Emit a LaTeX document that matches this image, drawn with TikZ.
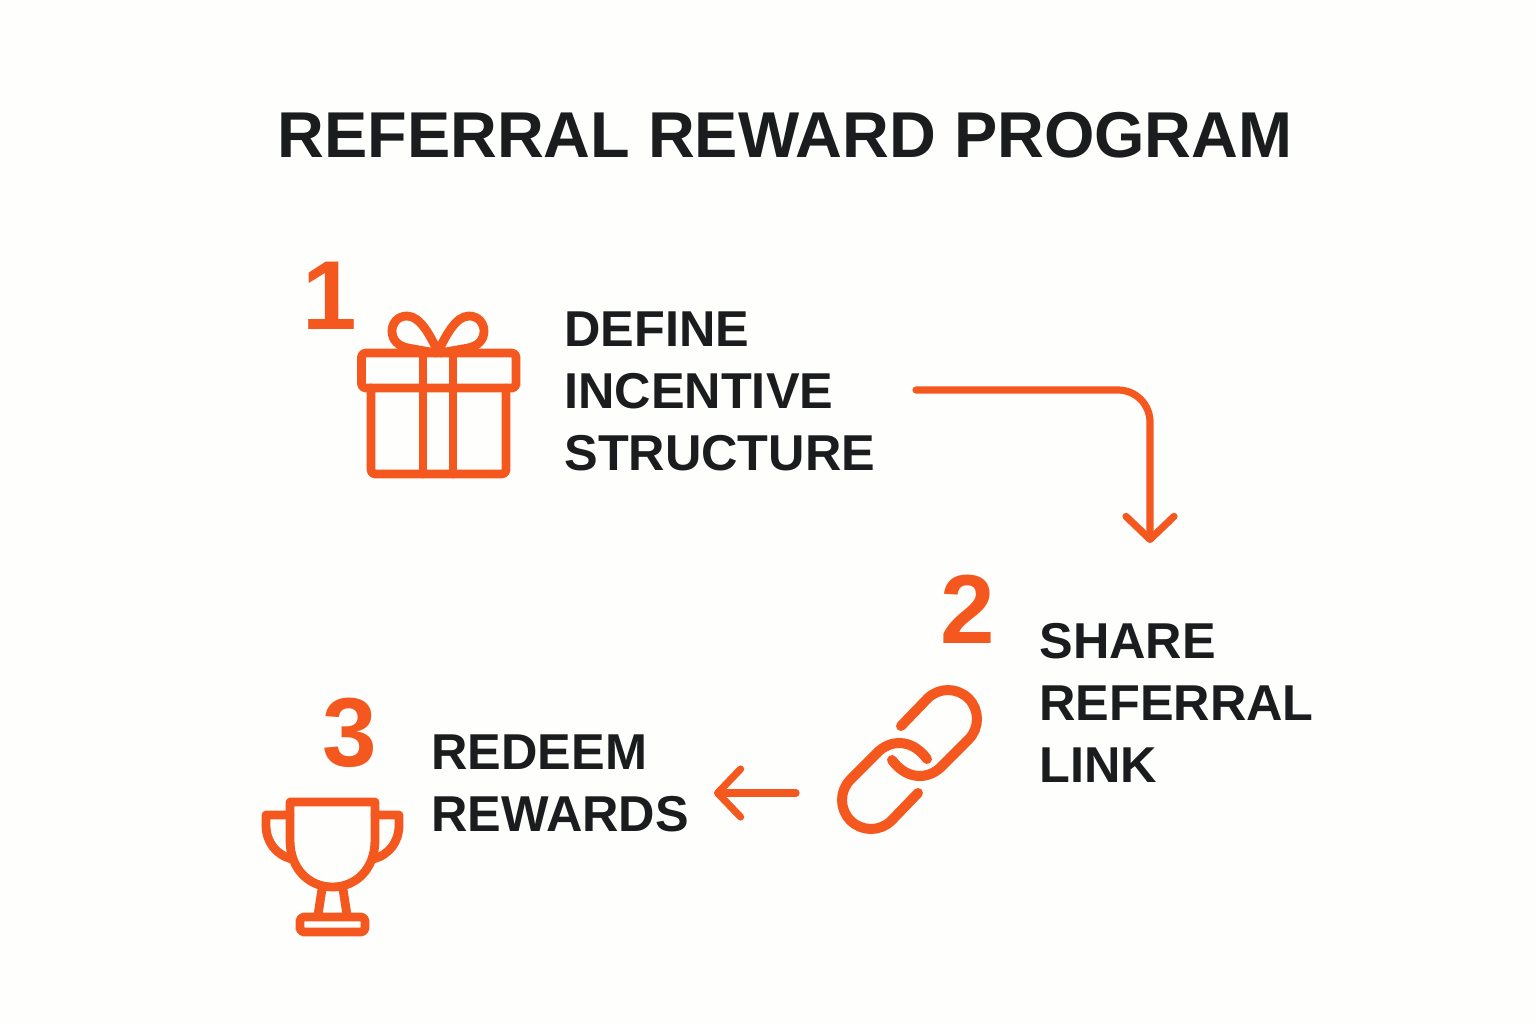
\documentclass[tikz,border=0pt]{standalone}
\usepackage{fontspec}
\setmainfont{Liberation Sans}
\usetikzlibrary{arrows.meta}
\definecolor{flame}{HTML}{F4581F}
\definecolor{ink}{HTML}{1A1C1E}
\definecolor{paper}{HTML}{FEFEFC}
\tikzset{
  title/.style={inner sep=0pt, anchor=base, text=ink, font=\fontsize{32.4}{40}\selectfont\bfseries},
  label/.style={inner sep=0pt, anchor=north west, align=left, text=ink, font=\fontsize{25.2}{31}\selectfont\bfseries},
  number/.style={inner sep=0pt, anchor=base, text=flame, font=\fontsize{49}{56}\selectfont\bfseries},
  icon/.style={draw=flame, line width=4.4pt, line join=round, line cap=round},
  flow/.style={draw=flame, line width=3.6pt, line cap=round, line join=round, -{Straight Barb[round, length=11.5pt, width=24pt, line width=3.6pt]}}
}
\begin{document}
\begin{tikzpicture}[x=.5pt, y=-.5pt]
\fill [paper] (0,0) rectangle (1536,1024);
\useasboundingbox (0,0) rectangle (1536,1024);
\node [title] (heading) at (785,157) {REFERRAL REWARD PROGRAM};
\node [number] (num1) at (330,329) {1};
\node [number] (num2) at (968,643) {2};
\node [number] (num3) at (350,766) {3};
\node [label] (define) at (564,311) {DEFINE\\INCENTIVE\\STRUCTURE};
\node [label] (share) at (1039,623) {SHARE\\REFERRAL\\LINK};
\node [label] (redeem) at (431,734) {REDEEM\\REWARDS};
% gift
\draw [icon, rounded corners=2pt] (361.5,353) rectangle (516,388);
\draw [icon, rounded corners=2pt] (371,388) -- (371,474) -- (506,474) -- (506,388);
\draw [icon] (423,353) -- (423,474) (453,353) -- (453,474);
\draw [icon] (438,352) .. controls (430,335) and (420,316) .. (407,316) .. controls (397,316) and (392,324) .. (392,331) .. controls (392,340) and (398,346) .. (408,348) -- (436,353);
\draw [icon] (438,352) .. controls (446,335) and (456,316) .. (469,316) .. controls (479,316) and (484,324) .. (484,331) .. controls (484,340) and (478,346) .. (468,348) -- (440,353);
% chain
\draw [icon, line width=5pt] (901,726) -- (927.5,698.5) .. controls (938.8,687.2) and (957.2,687.2) .. (968.5,698.5) .. controls (979.8,709.8) and (979.8,728.2) .. (968.5,739.5) -- (940,768) .. controls (925,781) and (905,778) .. (892,760);
\draw [icon, line width=5pt] (918,793) -- (891.5,820.5) .. controls (880.2,831.8) and (861.8,831.8) .. (850.5,820.5) .. controls (839.2,809.2) and (839.2,790.8) .. (850.5,779.5) -- (879,751) .. controls (894,738) and (914,741) .. (927,759);
% trophy
\draw [icon] (290,802) -- (375,802) -- (375,840) .. controls (375,870) and (355,887) .. (332.5,887) .. controls (310,887) and (290,870) .. (290,840) -- cycle;
\draw [icon] (290,815) -- (266,815) -- (266,825) .. controls (266,842) and (276,855) .. (292,859);
\draw [icon] (375,815) -- (399,815) -- (399,825) .. controls (399,842) and (389,855) .. (373,859);
\draw [icon] (322,889) -- (318,915) (343,889) -- (347,915);
\draw [icon, rounded corners=2pt] (300,917) rectangle (365,932);
% arrows
\coordinate (shareStart) at (916,390);
\coordinate (shareBend) at (1150,390);
\coordinate (shareEnd) at (1150,543);
\coordinate (redeemStart) at (796,793);
\coordinate (redeemEnd) at (714,793);
\draw [flow, rounded corners=16pt] (shareStart) -- (shareBend) -- (shareEnd);
\draw [flow] (redeemStart) -- (redeemEnd);
\end{tikzpicture}
\end{document}
